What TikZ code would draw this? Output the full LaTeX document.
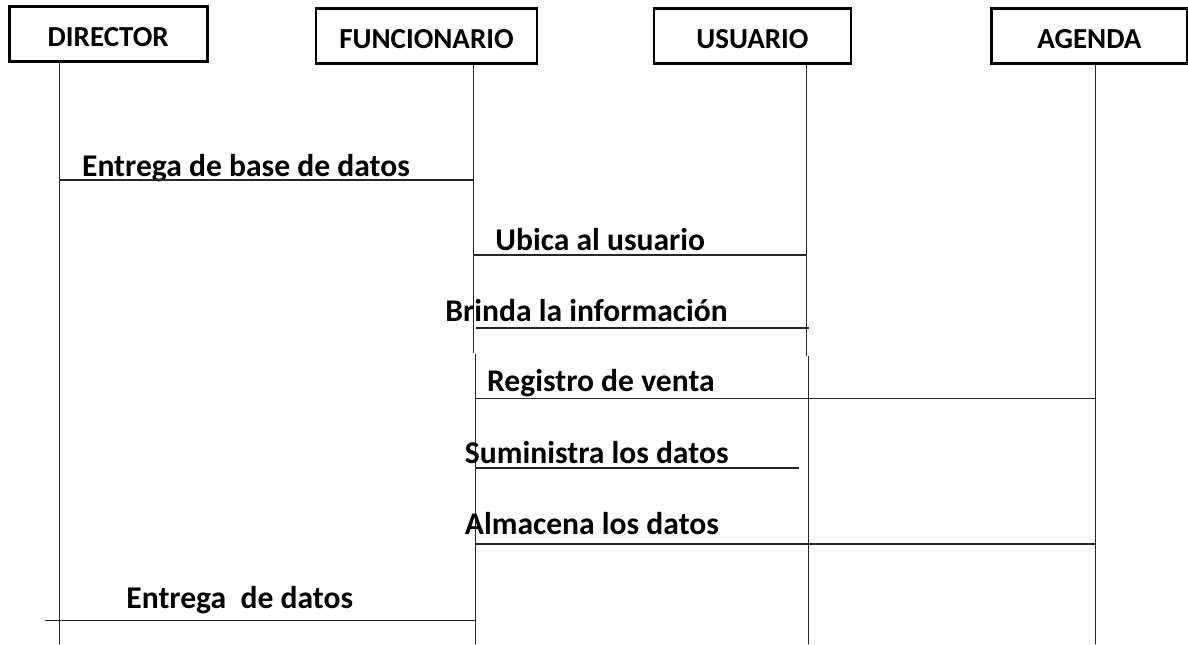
\documentclass[tikz,border=0pt]{standalone}
\usepackage{fontspec}
\setmainfont{Carlito}
\usetikzlibrary{calc}

\begin{document}
\begin{tikzpicture}[x=0.5pt,y=-0.5pt,
	font=\fontsize{14.5}{17}\selectfont\bfseries,
	actor/.style={draw=black,line width=1.4pt,rectangle,minimum height=27.4pt,text height=12.4pt,text depth=0pt,inner sep=0pt},
	life/.style={draw=black!85,line width=0.5pt},
	msg/.style={draw=black!85,line width=0.6pt},
	lbl/.style={anchor=base west,inner sep=0pt,font=\fontsize{15.8}{18}\selectfont\bfseries}]
			\useasboundingbox (0,0) rectangle (1188,644);
			\node (dir) [actor,minimum width=98.9pt] at (108.2,34.2){DIRECTOR};
			\node (fun) [actor,minimum width=110.5pt] at (426.5,36.2){FUNCIONARIO};
			\node (usu) [actor,minimum width=98.5pt] at (752.5,36.2){USUARIO};
			\node (age) [actor,minimum width=97.7pt] at (1089.4,36.2){AGENDA};
			
			\coordinate (dirEnd) at (59,644);
			\coordinate (funA) at (473.3,353);
			\coordinate (funB) at (475.7,354);
			\coordinate (funEnd) at (475.7,644);
			\coordinate (usuA) at (806.3,356);
			\coordinate (usuB) at (808.5,356);
			\coordinate (usuEnd) at (808.5,644);
			\coordinate (ageEnd) at (1095,644);
			\coordinate (sumEnd) at (799,468);
			\coordinate (entStart) at (45,620.5);
			
			\draw[life] (dir.south -| dirEnd)--(dirEnd);
			\draw[life] (fun.south -| funA)--(funA);
			\draw[life] (funB)--(funEnd);
			\draw[life] (usu.south -| usuA)--(usuA);
			\draw[life] (usuB)--(usuEnd);
			\draw[life] (age.south -| ageEnd)--(ageEnd);
			
			\node (m1) [lbl] at (81.7,176.7){Entrega de base de datos};
			\node (m2) [lbl] at (495,250){Ubica al usuario};
			\node (m3) [lbl] at (445,321.7){Brinda la información};
			\node (m4) [lbl] at (486.7,391.7){Registro de venta};
			\node (m5) [lbl] at (464.5,463.3){Suministra los datos};
			\node (m6) [lbl] at (464.5,534){Almacena los datos};
			\node (m7) [lbl] at (126,608){Entrega~~de datos};
			
			\draw[msg] (dirEnd |- 0,180)--(funA |- 0,180);
			\draw[msg] (funA |- 0,255)--(usuA |- 0,255);
			\draw[msg] (funB |- 0,328)--(usuB |- 0,328);
			\draw[msg] (funB |- 0,398.5)--(ageEnd |- 0,398.5);
			\draw[msg] (funB |- sumEnd)--(sumEnd);
			\draw[msg] (funB |- 0,544)--(ageEnd |- 0,544);
			\draw[msg] (entStart)--(funB |- entStart);
		\end{tikzpicture}
\end{document}
